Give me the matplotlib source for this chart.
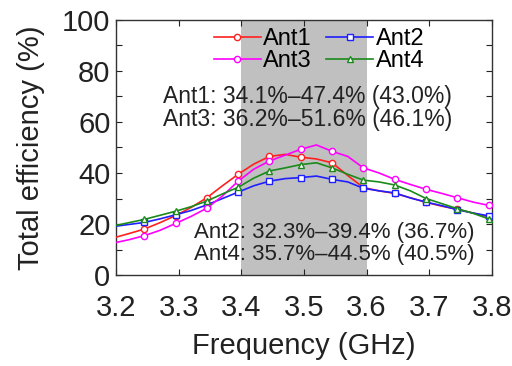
import numpy as np
import matplotlib
matplotlib.use("Agg")
import matplotlib.pyplot as plt

plt.rcParams['font.family'] = ['Liberation Sans', 'DejaVu Sans']

freq = [3.195, 3.22, 3.245, 3.27, 3.295, 3.32, 3.345, 3.37, 3.395, 3.42,
        3.445, 3.47, 3.495, 3.52, 3.545, 3.57, 3.595, 3.62, 3.645, 3.67,
        3.695, 3.72, 3.745, 3.77, 3.795, 3.82]

ant1 = [14.5, 16.2, 18.0, 20.5, 23.3, 26.5, 30.3, 35.0, 39.5, 43.5,
        46.5, 47.3, 46.2, 45.5, 44.0, 39.0, 34.3, 33.0, 32.0, 30.3,
        28.5, 27.0, 25.8, 24.3, 22.8, 22.0]
ant2 = [19.0, 19.8, 20.6, 22.0, 23.6, 25.3, 27.5, 30.0, 32.5, 35.0,
        36.8, 37.8, 38.2, 38.8, 37.5, 36.5, 34.0, 33.0, 32.2, 30.2,
        28.6, 27.2, 25.6, 24.3, 23.2, 22.5]
ant3 = [12.5, 13.8, 15.4, 17.5, 20.2, 23.0, 26.2, 31.0, 36.8, 41.5,
        44.7, 47.0, 49.3, 51.0, 48.5, 46.5, 42.0, 40.0, 37.5, 35.5,
        33.6, 32.0, 30.3, 28.6, 27.3, 27.0]
ant4 = [19.2, 20.5, 21.8, 23.4, 25.0, 26.8, 29.0, 31.8, 34.4, 38.0,
        40.8, 42.0, 43.3, 44.0, 42.0, 39.5, 37.2, 36.5, 35.3, 33.0,
        30.0, 28.0, 26.0, 24.2, 22.0, 21.5]

labels = ["Ant1", "Ant2", "Ant3", "Ant4"]
band = (3.4, 3.6)
notes_top = ["Ant1: 34.1%\u201347.4% (43.0%)", "Ant3: 36.2%\u201351.6% (46.1%)"]
notes_bot = ["Ant2: 32.3%\u201339.4% (36.7%)", "Ant4: 35.7%\u201344.5% (40.5%)"]

fig = plt.figure(figsize=(5.12, 3.66), dpi=100)
ax = fig.add_axes([0.2266, 0.2486, 0.734, 0.6968])

ax.axvspan(band[0], band[1], color='#c0c0c0', lw=0, zorder=0)

series = [ant1, ant2, ant3, ant4]
colors = ['#ff2020', '#1f1fff', '#ff00ff', '#1a8a1a']
markers = ['o', 's', 'o', '^']
handles = {}
for y, c, m, lab in zip(series, colors, markers, labels):
    h, = ax.plot(freq, y, color=c, lw=1.2, marker=m, markevery=(2, 2),
                 markersize=4.5, markerfacecolor='white', markeredgecolor=c,
                 markeredgewidth=1.0, label=lab, zorder=3)
    handles[lab] = h

ax.set_xlim(3.2, 3.8)
ax.set_ylim(0, 100)
ax.set_xticks([3.2, 3.3, 3.4, 3.5, 3.6, 3.7, 3.8])
ax.set_yticks([0, 20, 40, 60, 80, 100])
ax.set_yticks(np.arange(10, 100, 20), minor=True)
ax.tick_params(which='both', direction='in', top=True, right=True,
               length=4, width=0.8, labelsize=21, colors='#222222')
ax.tick_params(axis='x', pad=14)
ax.tick_params(axis='y', pad=4)
for s in ax.spines.values():
    s.set_linewidth(1.0)
    s.set_color('#333333')

ax.set_xlabel("Frequency (GHz)", fontsize=21, color='#222222', labelpad=7)
ax.set_ylabel("Total efficiency (%)", fontsize=21, color='#222222', labelpad=12)

order = ["Ant1", "Ant3", "Ant2", "Ant4"]
leg = ax.legend([handles[k] for k in order], order, ncol=2,
                loc='upper center', bbox_to_anchor=(0.54, 1.025),
                frameon=False, fontsize=17, handlelength=2.0,
                handletextpad=0.1, columnspacing=0.6, labelspacing=0.0,
                borderaxespad=0.2)

ax.text(0.125, 0.70, notes_top[0], transform=ax.transAxes, fontsize=16.5,
        va='center', ha='left', color='#222222')
ax.text(0.125, 0.61, notes_top[1], transform=ax.transAxes, fontsize=16.5,
        va='center', ha='left', color='#222222')
ax.text(0.955, 0.168, notes_bot[0], transform=ax.transAxes, fontsize=16,
        va='center', ha='right', color='#222222')
ax.text(0.955, 0.082, notes_bot[1], transform=ax.transAxes, fontsize=16,
        va='center', ha='right', color='#222222')

fig.savefig("out.png", dpi=100)
